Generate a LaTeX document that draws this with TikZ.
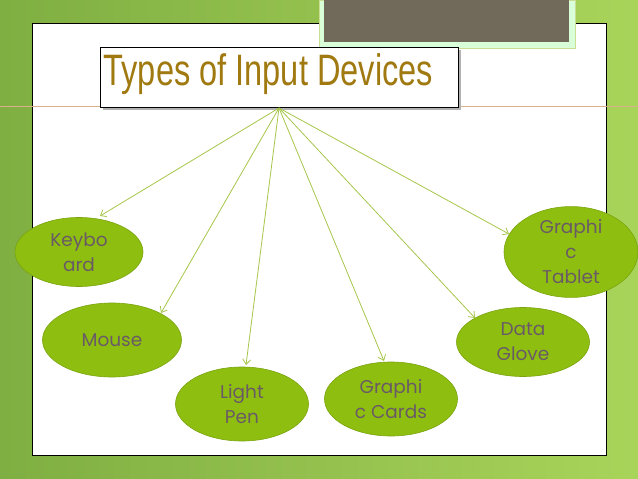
\documentclass[tikz,border=0pt]{standalone}
\usepackage{fontspec}
\setmainfont{Liberation Sans}
\newfontfamily\ellfont{Poppins}
\usetikzlibrary{shapes.geometric,arrows.meta}
\definecolor{bgA}{HTML}{7FAE42}
\definecolor{bgB}{HTML}{A9D45A}
\definecolor{ellfill}{HTML}{8EBF10}
\definecolor{elldraw}{HTML}{7BA30E}
\definecolor{txt}{HTML}{6A5A66}
\definecolor{arr}{HTML}{A6C64A}
\definecolor{gold}{HTML}{A07A10}
\definecolor{grayb}{HTML}{71695A}
\tikzset{
  ell/.style={ellipse,fill=ellfill,draw=elldraw,line width=0.6pt,inner sep=0pt,
    text=txt,font=\ellfont\fontsize{18.5}{25}\selectfont,align=center},
  conn/.style={draw=arr,line width=0.8pt,-{Straight Barb[length=5pt,width=8pt]}}
}
\begin{document}
\begin{tikzpicture}[x=1pt,y=-1pt]
\useasboundingbox (0,0) rectangle (638,479);
\shade[left color=bgA,right color=bgB] (0,0) rectangle (638,479);
\fill[white,draw=black,line width=0.8pt] (32,23) rectangle (606,455);
\fill[white!85!green,draw=arr!60!white] (319,0) rectangle (575,48);
\fill[grayb] (324,0) rectangle (569,42);
\draw[draw=brown!60!white,line width=0.6pt] (0,106) -- (638,106);
\fill[gray!60] (103,50) rectangle (461,110);
\node[draw=black,line width=1pt,fill=white,minimum width=358pt,minimum height=60pt,inner sep=0pt] (title) at (279,77) {};
\node[text=gold,font=\fontsize{44}{46}\selectfont,xscale=0.74,anchor=west] at (101,74) {Types of Input Devices};
\coordinate (src) at (279,108);
\node[ell,minimum width=128pt,minimum height=69pt] (kb) at (79,252) {Keybo\\ard};
\node[ell,minimum width=139pt,minimum height=74pt] (ms) at (112,340) {Mouse};
\node[ell,minimum width=133pt,minimum height=74pt] (lp) at (242,404) {Light\\Pen};
\node[ell,minimum width=133pt,minimum height=74pt] (gc) at (391,399) {Graphi\\c Cards};
\node[ell,minimum width=133pt,minimum height=69pt] (dg) at (523,342) {Data\\Glove};
\node[ell,minimum width=134pt,minimum height=70pt] (gt) at (571,252) {Graphi\\c\\Tablet};
\draw[conn] (src) -- (100,216);
\draw[conn] (src) -- (161,313);
\draw[conn] (src) -- (246,365);
\draw[conn] (src) -- (384,361);
\draw[conn] (src) -- (475,318);
\draw[conn] (src) -- (509,234);
\end{tikzpicture}
\end{document}
